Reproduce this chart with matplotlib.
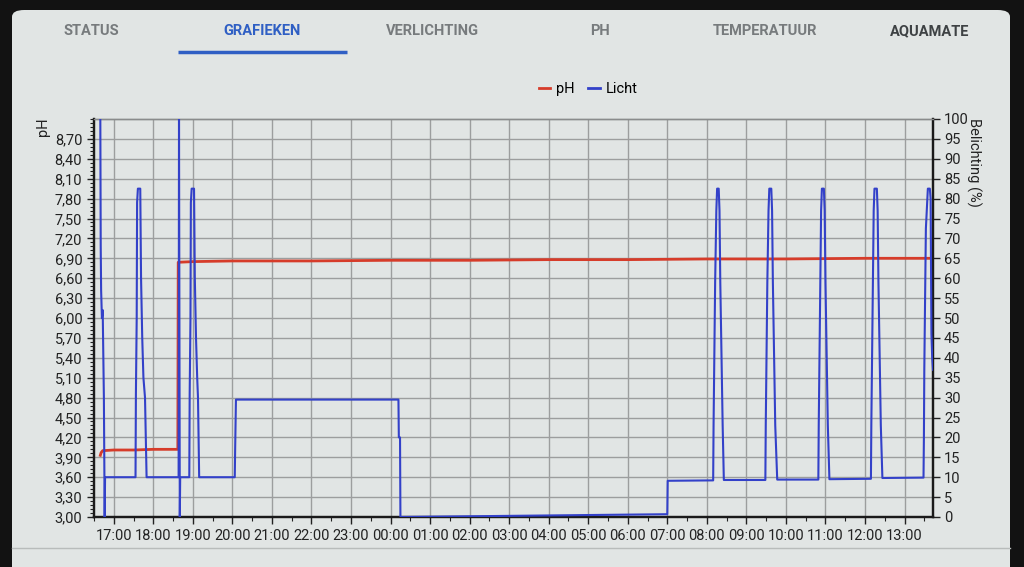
import matplotlib
matplotlib.use("Agg")
import matplotlib.pyplot as plt
from matplotlib.patches import FancyBboxPatch
from matplotlib.lines import Line2D
from matplotlib.ticker import MultipleLocator, FuncFormatter

# ---- data (hours since midnight of day 1, so 25.0 = 01:00 next day) ----
licht_t = [16.66, 16.67, 16.68, 16.70, 16.72, 16.75, 16.77, 16.78,
           17.55, 17.56, 17.58, 17.59, 17.61, 17.67, 17.69, 17.72, 17.75, 17.79, 17.83,
           18.64, 18.65, 18.67, 18.68,
           18.91, 18.92, 18.94, 18.95, 18.97, 19.03, 19.05, 19.08, 19.11, 19.13, 19.16,
           20.06, 20.07, 20.09,
           24.20, 24.21, 24.24, 24.25,
           31.00, 31.01,
           32.16, 32.17, 32.19, 32.21, 32.24, 32.26, 32.30, 32.32, 32.34, 32.37, 32.40, 32.43,
           33.48, 33.49, 33.51, 33.53, 33.56, 33.58, 33.63, 33.65, 33.67, 33.70, 33.73, 33.78,
           34.82, 34.83, 34.85, 34.87, 34.89, 34.91, 34.96, 34.98, 35.00, 35.03, 35.06, 35.10,
           36.15, 36.16, 36.18, 36.20, 36.22, 36.24, 36.30, 36.32, 36.34, 36.37, 36.40, 36.44,
           37.48, 37.49, 37.50, 37.52, 37.54, 37.59, 37.64, 37.66, 37.68, 37.70, 37.72]
licht_v = [100, 68, 57, 50, 52, 30, 0, 10,
           10, 31, 50, 79, 82.5, 82.5, 60, 45, 35, 30, 10,
           10, 100, 0, 10,
           10, 31, 50, 79, 82.5, 82.5, 60, 45, 35, 30, 10,
           10, 17, 29.5,
           29.5, 20, 20, 0,
           0.7, 9.1,
           9.2, 23, 41, 59, 77, 82.5, 82.5, 77, 59, 41, 23, 9.3,
           9.3, 23, 41, 59, 77, 82.5, 82.5, 77, 59, 41, 23, 9.4,
           9.4, 23, 41, 59, 77, 82.5, 82.5, 77, 59, 41, 23, 9.5,
           9.6, 23, 41, 59, 77, 82.5, 82.5, 77, 59, 41, 23, 9.8,
           9.9, 20, 37, 55, 72.5, 82.5, 82.5, 80, 46, 40, 37]

ph_t = [16.66, 16.68, 16.72, 17.0, 17.5, 18.0, 18.62, 18.63,
        19.0, 20.0, 22.0, 24.0, 26.0, 28.0, 30.0, 32.0, 34.0, 36.0, 37.72]
ph_v = [3.93, 3.97, 4.00, 4.01, 4.01, 4.02, 4.02, 6.84,
        6.85, 6.86, 6.86, 6.87, 6.87, 6.88, 6.88, 6.89, 6.89, 6.90, 6.90]

hour_ticks = list(range(17, 38))
tabs = ["STATUS", "GRAFIEKEN", "VERLICHTING", "PH", "TEMPERATUUR", "AQUAMATE"]

plt.rcParams['font.family'] = ['Roboto', 'DejaVu Sans']

W, H = 1024, 567
fig = plt.figure(figsize=(W / 100, H / 100), dpi=100, facecolor="#121212")

def fx(px):
    return px / W

def fy(py):
    return 1 - py / H

# screen
screen = FancyBboxPatch((fx(12), fy(600)), fx(998), fy(10) - fy(600),
                        boxstyle="round,pad=0,rounding_size=0.012",
                        transform=fig.transFigure, facecolor="#e1e5e4",
                        edgecolor="none", zorder=0)
fig.add_artist(screen)
fig.add_artist(Line2D([fx(12), fx(1010)], [fy(548), fy(548)], transform=fig.transFigure,
                      color="#b8bcbb", lw=1))

# tab bar
tab_x = [91, 262, 432, 600, 765, 930]
for name, x in zip(tabs, tab_x):
    col = "#777b7d"
    if name == "GRAFIEKEN":
        col = "#2f5fc4"
    elif name == "AQUAMATE":
        col = "#3e4244"
    fig.text(fx(x), fy(31), name, ha="center", va="center", fontsize=10.5,
             color=col, fontweight="bold")
fig.add_artist(Line2D([fx(178), fx(347)], [fy(52), fy(52)], transform=fig.transFigure,
                      color="#2f5fc4", lw=2.5, solid_capstyle="butt"))

# chart
ax = fig.add_axes([fx(94), fy(517), fx(933) - fx(94), fy(119) - fy(517)])
ax.set_facecolor("none")
ax2 = ax.twinx()

red = "#d63c2a"
blue = "#3341c9"
ax.plot(ph_t, ph_v, color=red, lw=2, zorder=3)
ax2.plot(licht_t, licht_v, color=blue, lw=1.5, zorder=3)

ax.set_xlim(16.50, 37.72)
ax.set_ylim(3.0, 9.0)
ax2.set_ylim(0, 100)

ax.set_xticks(hour_ticks)
ax.xaxis.set_major_formatter(FuncFormatter(lambda v, p: "%02d:00" % (int(round(v)) % 24)))
ax.xaxis.set_minor_locator(MultipleLocator(0.5))
ax.set_yticks([3.0 + 0.3 * i for i in range(20)])
ax.yaxis.set_major_formatter(FuncFormatter(lambda v, p: ("%.2f" % v).replace(".", ",")))
ax.yaxis.set_minor_locator(MultipleLocator(0.06))
ax2.set_yticks(range(0, 101, 5))

ax.grid(True, which="major", color="#9c9e9e", lw=1)
ax.set_axisbelow(True)

for a in (ax, ax2):
    a.tick_params(which="both", direction="out", colors="#222222", labelsize=10.5)
    a.tick_params(which="major", length=5, width=1)
    a.tick_params(which="minor", length=3, width=0.8)
    for side in ("left", "bottom", "right"):
        a.spines[side].set_color("#1a1a1a")
        a.spines[side].set_linewidth(1.6)
    a.spines["top"].set_color("#8a8c8c")
    a.spines["top"].set_linewidth(1)
ax.tick_params(axis="x", pad=4)
ax2.tick_params(axis="y", pad=3)

fig.text(fx(43), fy(118), "pH", rotation=90, ha="center", va="top", fontsize=10.5, color="#222222")
fig.text(fx(974), fy(118), "Belichting (%)", rotation=270, ha="center", va="top",
         fontsize=10.5, color="#222222")

handles = [Line2D([], [], color=red, lw=2), Line2D([], [], color=blue, lw=2)]
fig.legend(handles, ["pH", "Licht"], loc="center", bbox_to_anchor=(fx(588), fy(89)),
           ncol=2, frameon=False, handlelength=0.8, handletextpad=0.4, columnspacing=0.9,
           fontsize=10.5)

fig.savefig("out.png", dpi=100, facecolor=fig.get_facecolor())
plt.close(fig)
